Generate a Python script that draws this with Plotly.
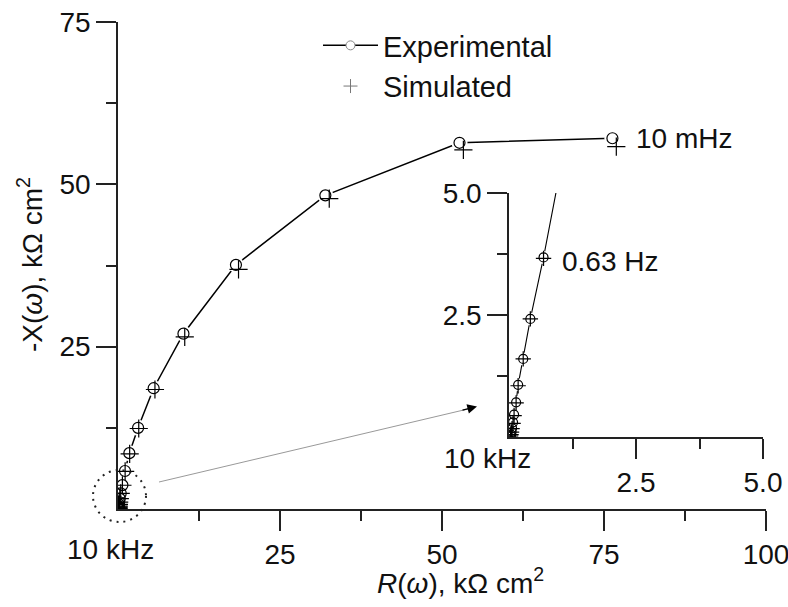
import plotly.graph_objects as go

# ---- data (kOhm cm^2), ordered from 10 kHz (left) to 10 mHz (right) ----
R_exp = [0.03, 0.04, 0.05, 0.06, 0.08, 0.10, 0.14, 0.18, 0.28, 0.42, 0.68, 1.08, 1.75, 3.1, 5.5, 10.1, 18.2, 32.0, 52.7, 76.3]
X_exp = [0.02, 0.05, 0.10, 0.18, 0.30, 0.46, 0.71, 1.07, 1.60, 2.42, 3.68, 5.85, 8.6, 12.5, 18.6, 27.0, 37.6, 48.3, 56.4, 57.1]
R_sim = [0.03, 0.04, 0.05, 0.06, 0.08, 0.10, 0.14, 0.18, 0.28, 0.42, 0.68, 1.10, 1.80, 3.2, 5.7, 10.3, 18.6, 32.6, 53.3, 76.9]
X_sim = [0.02, 0.05, 0.10, 0.17, 0.28, 0.44, 0.70, 1.05, 1.60, 2.42, 3.66, 5.80, 8.5, 12.4, 18.4, 26.5, 36.9, 47.8, 55.3, 55.8]

main_x_ticks = [25, 50, 75, 100]
main_x_text = ["25", "50", "75", "100"]
main_x_minor = [12.5, 37.5, 62.5, 87.5]
main_y_ticks = [25, 50, 75]
main_y_text = ["25", "50", "75"]
main_y_minor = [12.5, 37.5, 62.5]
ins_ticks = [2.5, 5.0]
ins_text = ["2.5", "5.0"]
ins_minor = [1.25, 3.75]

W, H = 788, 607
FONT = "Liberation Sans, Arial, sans-serif"
TICKFONT = dict(family=FONT, size=28, color="#111")


def px(x):
    return x / W


def py(y):
    return 1 - y / H


fig = go.Figure()

for (xa, ya, lw, ms, gs) in [("x", "y", 1.5, 11, 16), ("x2", "y2", 1.1, 9, 13)]:
    fig.add_trace(go.Scatter(x=R_exp, y=X_exp, mode="lines", line=dict(color="black", width=lw),
                             xaxis=xa, yaxis=ya, showlegend=False, hoverinfo="skip"))
    fig.add_trace(go.Scatter(x=R_exp, y=X_exp, mode="markers",
                             marker=dict(symbol="circle", size=gs, color="white", line=dict(width=0)),
                             xaxis=xa, yaxis=ya, showlegend=False, hoverinfo="skip"))
    fig.add_trace(go.Scatter(x=R_exp, y=X_exp, mode="markers", name="Experimental",
                             marker=dict(symbol="circle-open", size=ms, color="black", line=dict(width=1.2)),
                             xaxis=xa, yaxis=ya, showlegend=False))
    fig.add_trace(go.Scatter(x=R_sim, y=X_sim, mode="markers", name="Simulated",
                             marker=dict(symbol="cross-thin-open", size=ms + 2, color="black", line=dict(width=1.2)),
                             xaxis=xa, yaxis=ya, showlegend=False))

# legend-only entries
fig.add_trace(go.Scatter(x=[None], y=[None], mode="lines+markers", name="Experimental",
                         line=dict(color="black", width=1.5),
                         marker=dict(symbol="circle", size=9, color="white", line=dict(color="#888", width=1))))
fig.add_trace(go.Scatter(x=[None], y=[None], mode="markers", name="Simulated",
                         marker=dict(symbol="cross-thin-open", size=10, color="#777", line=dict(width=1))))

axis_common = dict(showline=True, linecolor="#222", linewidth=1.5, ticks="outside", ticklen=20,
                   tickwidth=1.5, tickcolor="#222", showgrid=False, zeroline=False, automargin=False,
                   ticklabeloverflow="allow", tickfont=TICKFONT, tickmode="array")
minor_common = dict(ticks="outside", ticklen=10, tickwidth=1.5, tickcolor="#222", showgrid=False, tickmode="array")

fig.update_layout(
    width=W, height=H, margin=dict(l=0, r=0, t=0, b=0, autoexpand=False),
    paper_bgcolor="white", plot_bgcolor="rgba(0,0,0,0)",
    font=dict(family=FONT, size=26, color="#111"),
    xaxis=dict(domain=[px(118), px(766)], range=[0, 100], tickvals=main_x_ticks, ticktext=main_x_text,
               minor=dict(tickvals=main_x_minor, **minor_common), anchor="y", **axis_common),
    yaxis=dict(domain=[py(509), py(22)], range=[0, 75], tickvals=main_y_ticks, ticktext=main_y_text,
               minor=dict(tickvals=main_y_minor, **minor_common), anchor="x", **axis_common),
    xaxis2=dict(domain=[px(509), px(763)], range=[0, 5], tickvals=ins_ticks, ticktext=ins_text,
                minor=dict(tickvals=ins_minor, **minor_common), anchor="y2", **axis_common),
    yaxis2=dict(domain=[py(437), py(193)], range=[0, 5], tickvals=ins_ticks, ticktext=ins_text,
                minor=dict(tickvals=ins_minor, **minor_common), anchor="x2", **axis_common),
    legend=dict(x=px(318), y=py(20), xanchor="left", yanchor="top", bgcolor="rgba(0,0,0,0)",
                font=dict(family=FONT, size=29, color="#111"), itemwidth=55, tracegroupgap=0),
    showlegend=True,
)

ann = dict(showarrow=False, font=dict(family=FONT, size=28, color="#111"))
fig.add_annotation(text="10 kHz", xref="paper", yref="paper", x=px(110), y=py(549), xanchor="center", yanchor="middle", **ann)
fig.add_annotation(text="10 kHz", xref="paper", yref="paper", x=px(487), y=py(458), xanchor="center", yanchor="middle", **ann)
fig.add_annotation(text="10 mHz", xref="paper", yref="paper", x=px(634), y=py(139), xanchor="left", yanchor="middle", **ann)
fig.add_annotation(text="0.63 Hz", xref="paper", yref="paper", x=px(560), y=py(261), xanchor="left", yanchor="middle", **ann)
# axis titles
fig.add_annotation(text="<i>R</i>(<i>ω</i>), kΩ cm<sup>2</sup>", xref="paper", yref="paper", x=px(460), y=py(581),
                   xanchor="center", yanchor="middle", **ann)
fig.add_annotation(text="-X(<i>ω</i>), kΩ cm<sup>2</sup>", xref="paper", yref="paper", x=px(30), y=py(265),
                   xanchor="center", yanchor="middle", textangle=-90, **ann)

# zoom circle + pointer arrow
fig.add_shape(type="circle", xref="paper", yref="paper", x0=px(93), x1=px(146), y0=py(522), y1=py(470),
              line=dict(color="#222", width=2, dash="2px,5px"), layer="above")
fig.add_shape(type="line", xref="paper", yref="paper", x0=px(159), y0=py(482), x1=px(470), y1=py(408.5),
              line=dict(color="#999", width=1))
fig.add_annotation(text="", xref="paper", yref="paper", x=px(477), y=py(406.5), ax=-16, ay=4,
                   showarrow=True, arrowhead=2, arrowsize=1.6, arrowwidth=1.2, arrowcolor="black")

# remove the default page margin so the 788x607 figure fills the window exactly
fig.write_html("out.html", config={"displayModeBar": False},
               post_script="document.body.style.margin='0';document.body.style.overflow='hidden';")
